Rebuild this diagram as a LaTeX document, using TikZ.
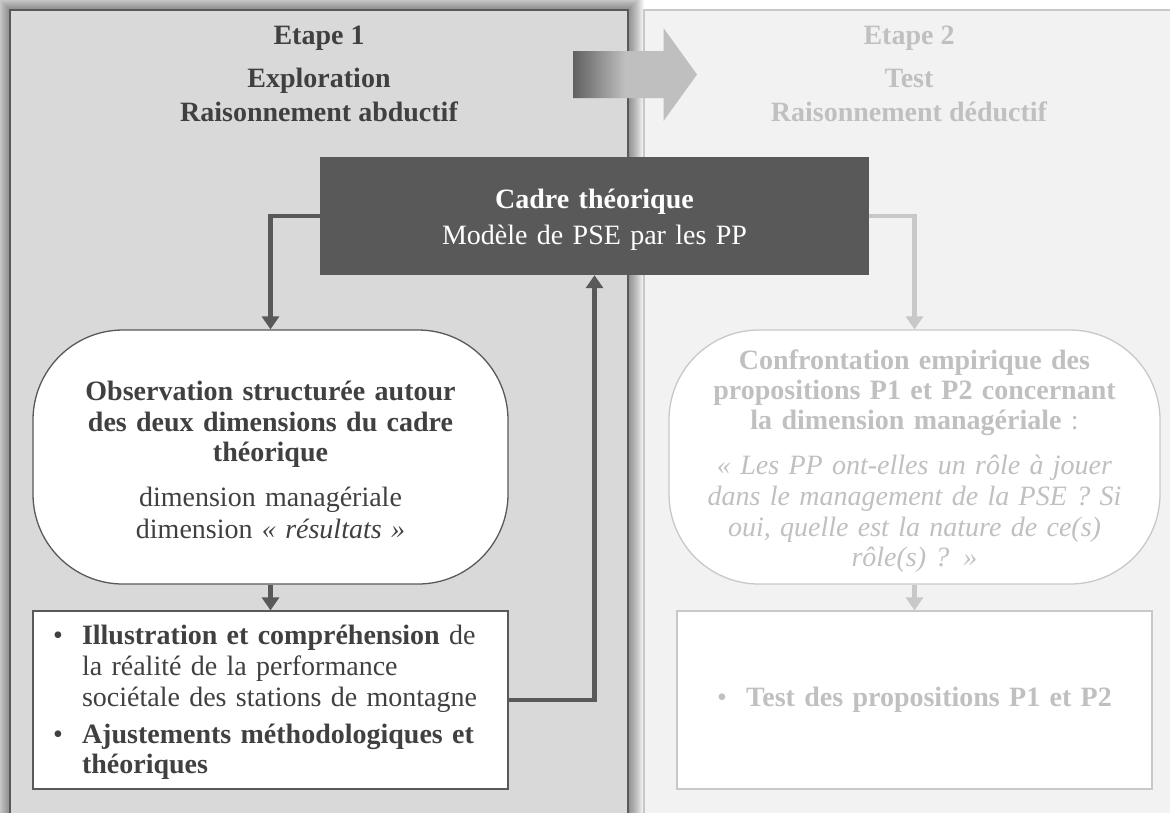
\documentclass[tikz,border=0pt]{standalone}
\usepackage{fontspec}
\setmainfont{Liberation Serif}
\usetikzlibrary{arrows.meta}

\definecolor{darkgrey}{HTML}{595959}
\definecolor{fillA}{HTML}{D9D9D9}
\definecolor{fillB}{HTML}{F2F2F2}
\definecolor{inkA}{HTML}{404040}
\definecolor{inkB}{HTML}{C0C0C0}
\definecolor{ruleB}{HTML}{C8C8C8}
\definecolor{arrowdark}{HTML}{606060}
\definecolor{arrowlight}{HTML}{BFBFBF}

% dark-to-light fill of the transition arrow (path box spans 25bp..75bp)
\pgfdeclarehorizontalshading{transshade}{100bp}{color(0bp)=(arrowdark); color(25bp)=(arrowdark); color(46bp)=(arrowlight); color(100bp)=(arrowlight)}

\tikzset{
  bigfont/.style={font=\fontsize{28}{30.5}\selectfont},
  stageframe/.style={rectangle, inner sep=0pt, outer sep=0pt, line width=1.5pt},
  headtext/.style={anchor=base, inner sep=0pt, font=\fontsize{28}{30.5}\selectfont\bfseries},
  roundcard/.style={rectangle, rounded corners=90pt, fill=white, line width=1.3pt,
    minimum width=475pt, minimum height=254pt, text width=440pt, align=center, inner sep=0pt},
  listcard/.style={rectangle, fill=white, line width=1.3pt, minimum width=475pt,
    minimum height=178pt, text width=435pt, inner xsep=20pt, inner ysep=0pt},
  linkdark/.style={draw=darkgrey, line width=4.5pt, -{Triangle[length=13pt,width=17pt]}},
  linklight/.style={draw=ruleB, line width=4.5pt, -{Triangle[length=13pt,width=17pt]}},
}

\begin{document}
\begin{tikzpicture}[x=1pt,y=-1pt]
\useasboundingbox (0,0) rectangle (1170,812);
\clip (0,0) rectangle (1170,812);

% soft shadow around the first stage
\foreach \d in {1,...,16}
  \fill[black,opacity=0.035] ({10-\d},{10-\d}) rectangle ({628+\d},840);

% the two stages
\node[stageframe, fill=fillA, draw=darkgrey, minimum width=618pt, minimum height=830pt]
  (stageone) at (319,425) {};
\node[stageframe, fill=fillB, draw=ruleB, minimum width=545pt, minimum height=830pt]
  (stagetwo) at (916.5,425) {};

% stage headings
\node[headtext, text=inkA] (oneA) at (319,44) {Etape 1};
\node[headtext, text=inkA] (oneB) at (319,87) {Exploration};
\node[headtext, text=inkA] (oneC) at (319,121) {Raisonnement abductif};
\node[headtext, text=inkB] (twoA) at (909,44) {Etape 2};
\node[headtext, text=inkB] (twoB) at (909,87) {Test};
\node[headtext, text=inkB] (twoC) at (909,121) {Raisonnement déductif};

% transition arrow from stage 1 to stage 2
\shade[shading=transshade] (573,51) -- (663.5,51) -- (663.5,28) -- (697,74.5)
  -- (663.5,121) -- (663.5,98) -- (573,98) -- cycle;

% theoretical framework
\node[rectangle, fill=darkgrey, text=white, minimum width=549pt, minimum height=118pt,
  text width=520pt, align=center, inner sep=0pt, font=\fontsize{28}{36}\selectfont]
  (cadre) at (594.5,216) {\rule{0pt}{27pt}{\bfseries Cadre théorique}\\Modèle de PSE par les PP};

% stage 1 boxes
\node[roundcard, draw=darkgrey, text=inkA, bigfont] (obs) at (270.5,457)
  {\rule{0pt}{26pt}{\bfseries Observation structurée autour\\des deux dimensions du cadre\\théorique}\\[14.5pt]
   dimension managériale\\[1.5pt]dimension \textit{« résultats »}};

\node[listcard, draw=darkgrey, text=inkA, align=left, font=\fontsize{28}{31}\selectfont]
  (illus) at (270.5,700)
  {\rule{0pt}{24pt}\makebox[29pt][l]{•}\makebox[398pt][s]{\bfseries Illustration et compréhension \mdseries de}\\
   \hspace*{29pt}la réalité de la performance\\
   \hspace*{29pt}sociétale des stations de montagne\\[6pt]
   \makebox[29pt][l]{•}\makebox[398pt][s]{\bfseries Ajustements méthodologiques et}\\[-1pt]
   \hspace*{29pt}{\bfseries théoriques}};

% stage 2 boxes
\node[roundcard, draw=ruleB, text=inkB, minimum width=491pt, text width=460pt,
  font=\fontsize{28}{30}\selectfont] (conf) at (914.5,457)
  {\rule{0pt}{28pt}{\bfseries Confrontation empirique des\\propositions P1 et P2 concernant\\la dimension managériale} :\\[15pt]
   \itshape « Les PP ont-elles un rôle à jouer\\[1pt]dans le management de la PSE ? Si\\[1pt]
   oui, quelle est la nature de ce(s)\\rôle(s) ? »};

\node[listcard, draw=ruleB, text=inkB, align=center, font=\fontsize{28}{31}\selectfont]
  (testbox) at (914.5,700)
  {\makebox[29pt][l]{•}{\bfseries Test des propositions P1 et P2}};

% connectors
\draw[linkdark] (cadre.west) -| (obs.north);
\draw[linkdark] (obs.south) -- (illus.north);
\draw[linkdark] (illus.east) -| (cadre.south);
\draw[linklight] (cadre.east) -| (conf.north);
\draw[linklight] (conf.south) -- (testbox.north);
\end{tikzpicture}
\end{document}
